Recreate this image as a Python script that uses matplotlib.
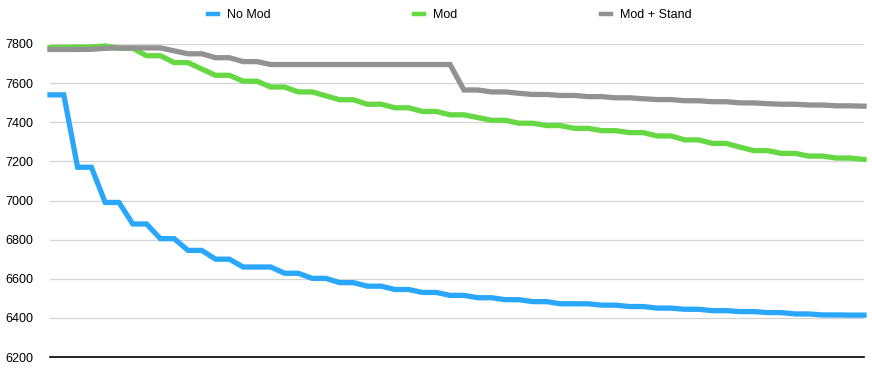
import matplotlib
matplotlib.use('Agg')
import matplotlib.pyplot as plt

no_mod = [7540, 7540, 7170, 7170, 6990, 6990, 6880, 6880, 6805, 6805,
          6745, 6745, 6700, 6700, 6660, 6660, 6660, 6628, 6628, 6602,
          6602, 6580, 6580, 6562, 6562, 6545, 6545, 6530, 6530, 6515,
          6515, 6503, 6503, 6493, 6493, 6483, 6483, 6472, 6472, 6472,
          6465, 6465, 6458, 6458, 6450, 6450, 6444, 6444, 6437, 6437,
          6432, 6432, 6427, 6427, 6420, 6420, 6415, 6415, 6414, 6414]
mod = [7782, 7783, 7784, 7785, 7790, 7778, 7778, 7740, 7740, 7705,
       7705, 7672, 7640, 7640, 7610, 7610, 7580, 7580, 7555, 7555,
       7535, 7515, 7515, 7492, 7492, 7474, 7474, 7455, 7455, 7438,
       7438, 7424, 7410, 7410, 7395, 7395, 7383, 7383, 7369, 7369,
       7357, 7357, 7347, 7347, 7330, 7330, 7310, 7310, 7292, 7292,
       7273, 7255, 7255, 7241, 7241, 7227, 7227, 7217, 7217, 7210]
mod_stand = [7772, 7772, 7772, 7773, 7778, 7780, 7780, 7780, 7780, 7765,
             7750, 7750, 7730, 7730, 7710, 7710, 7695, 7695, 7695, 7695,
             7695, 7695, 7695, 7695, 7695, 7695, 7695, 7695, 7695, 7695,
             7565, 7565, 7555, 7555, 7548, 7542, 7542, 7537, 7537, 7531,
             7531, 7525, 7525, 7520, 7516, 7516, 7510, 7510, 7505, 7505,
             7499, 7499, 7495, 7492, 7492, 7488, 7488, 7484, 7484, 7482]
labels = ['No Mod', 'Mod', 'Mod + Stand']
colors = ['#2aa7fb', '#66d843', '#929292']
yticks = [6200, 6400, 6600, 6800, 7000, 7200, 7400, 7600, 7800]

plt.rcParams['font.family'] = ['Liberation Sans', 'DejaVu Sans']

fig = plt.figure(figsize=(8.72, 3.79), dpi=100)
ax = fig.add_axes([50 / 872, 22 / 379, 814 / 872, 313 / 379])

x = range(len(no_mod))
for series, label, color in zip([no_mod, mod, mod_stand], labels, colors):
    ax.plot(x, series, color=color, lw=3.8, label=label,
            solid_joinstyle='miter', clip_on=False, zorder=3)

ax.set_xlim(0, len(no_mod) - 1)
ax.set_ylim(6200, 7800)
ax.set_yticks(yticks)
ax.set_xticks([])
ax.grid(axis='y', color='#d4d4d4', lw=0.9)
ax.set_axisbelow(True)
for side in ['top', 'right', 'left']:
    ax.spines[side].set_visible(False)
ax.spines['bottom'].set_color('black')
ax.spines['bottom'].set_linewidth(1.2)
ax.spines['bottom'].set_zorder(4)
ax.tick_params(axis='y', length=0, pad=12, labelsize=9)

leg = fig.legend(loc='upper center', bbox_to_anchor=(0.516, 1.005), ncol=3,
                 frameon=False, fontsize=9, handlelength=0.75,
                 handletextpad=0.75, columnspacing=11.5)
for line in leg.get_lines():
    line.set_linewidth(3.2)

fig.savefig('out.png', dpi=100)
